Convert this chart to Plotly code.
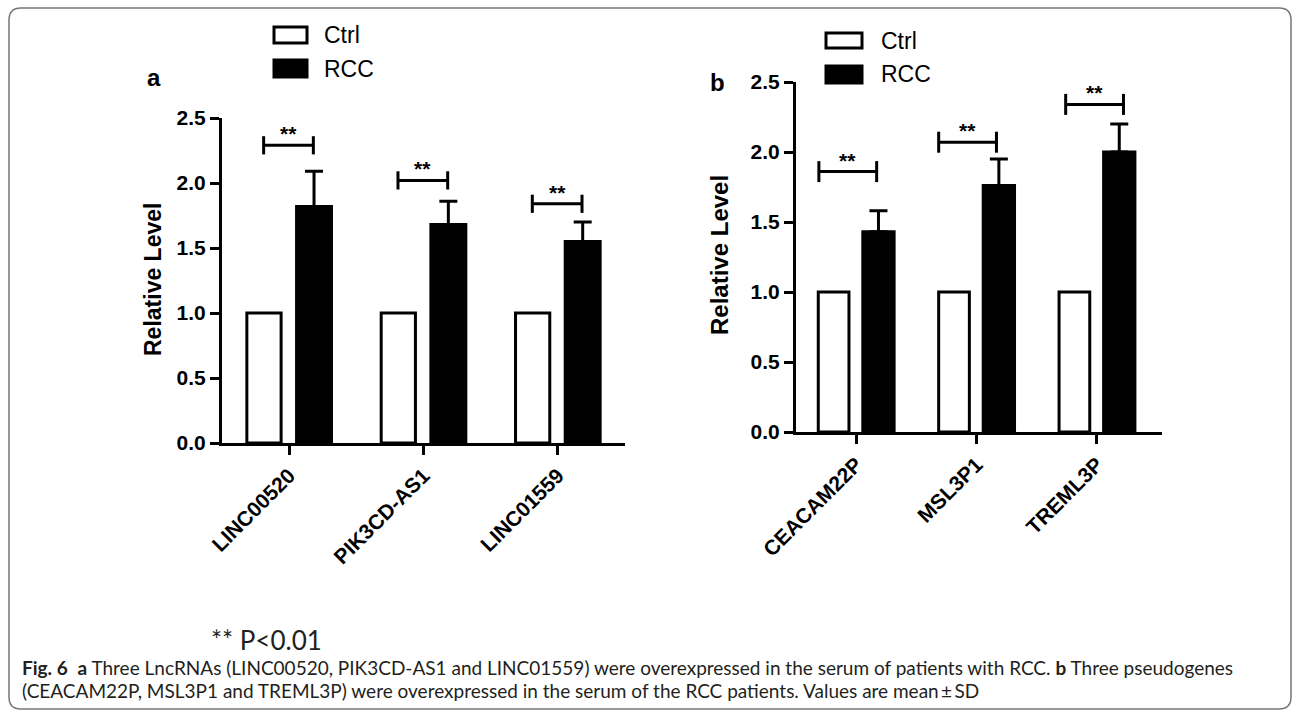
import plotly.graph_objects as go

W, H = 1293, 713

# ---------------- data ----------------
groups = ["Ctrl", "RCC"]
cats_a = ["LINC00520", "PIK3CD-AS1", "LINC01559"]
ctrl_a = [1.0, 1.0, 1.0]
rcc_a = [1.82, 1.68, 1.55]
rcc_sd_a = [0.27, 0.18, 0.15]
sig_a = [2.29, 2.02, 1.84]

cats_b = ["CEACAM22P", "MSL3P1", "TREML3P"]
ctrl_b = [1.0, 1.0, 1.0]
rcc_b = [1.43, 1.76, 2.00]
rcc_sd_b = [0.15, 0.19, 0.20]
sig_b = [1.86, 2.07, 2.34]

y_ticks = [0.0, 0.5, 1.0, 1.5, 2.0, 2.5]
y_title = "Relative Level"
sig_label = "**"
p_note = "** P<0.01"
caption_1 = ("<b>Fig. 6</b>  <b>a</b> Three LncRNAs (LINC00520, PIK3CD-AS1 and LINC01559) "
             "were overexpressed in the serum of patients with RCC. <b>b</b> Three pseudogenes")
caption_2 = ("(CEACAM22P, MSL3P1 and TREML3P) were overexpressed in the serum of the RCC "
             "patients. Values are mean\u2009\u00b1\u2009SD")

# ---------------- helpers ----------------
def px(x):
    return x / W

def py(y):
    return 1 - y / H

ARIAL = "Arial, Liberation Sans, sans-serif"
CAP = "Lato, Open Sans, sans-serif"

fig = go.Figure()

panels = [
    dict(cats=cats_a, ctrl=ctrl_a, rcc=rcc_a, sd=rcc_sd_a, sig=sig_a, xa="x", ya="y",
         br=[(-0.19, 0.18)] * 3, h=0.07),
    dict(cats=cats_b, ctrl=ctrl_b, rcc=rcc_b, sd=rcc_sd_b, sig=sig_b, xa="x2", ya="y2",
         br=[(-0.31, 0.17), (-0.315, 0.165), (-0.26, 0.22)], h=0.075),
]

shapes = []
annotations = []

for p in panels:
    fig.add_trace(go.Bar(
        x=p["cats"], y=p["ctrl"], name=groups[0], offset=-0.315, width=0.255,
        marker=dict(color="white", line=dict(color="black", width=3)),
        xaxis=p["xa"], yaxis=p["ya"], showlegend=False))
    fig.add_trace(go.Bar(
        x=p["cats"], y=p["rcc"], name=groups[1], offset=0.055, width=0.26,
        marker=dict(color="black", line=dict(color="black", width=3)),
        error_y=dict(type="data", array=p["sd"], arrayminus=[0] * len(p["sd"]),
                     symmetric=False, color="black", thickness=3, width=9),
        xaxis=p["xa"], yaxis=p["ya"], showlegend=False))
    for i, yv in enumerate(p["sig"]):
        x0 = i + p["br"][i][0]
        x1 = i + p["br"][i][1]
        ln = dict(color="black", width=3)
        shapes.append(dict(type="line", xref=p["xa"], yref=p["ya"], x0=x0, x1=x1, y0=yv, y1=yv, line=ln))
        shapes.append(dict(type="line", xref=p["xa"], yref=p["ya"], x0=x0, x1=x0,
                           y0=yv - p["h"], y1=yv + p["h"], line=ln))
        shapes.append(dict(type="line", xref=p["xa"], yref=p["ya"], x0=x1, x1=x1,
                           y0=yv - p["h"], y1=yv + p["h"], line=ln))
        annotations.append(dict(xref=p["xa"], yref=p["ya"], x=(x0 + x1) / 2, y=yv,
                                text="<b>" + sig_label + "</b>", showarrow=False,
                                xanchor="center", yanchor="bottom", yshift=-2,
                                font=dict(family=ARIAL, size=21, color="black")))

axis_common = dict(showline=True, linewidth=3, linecolor="black", ticks="outside",
                   ticklen=9, tickwidth=3, tickcolor="black", showgrid=False,
                   zeroline=False, fixedrange=True, automargin=False,
                   tickfont=dict(family=ARIAL, size=21, color="black", weight="bold"))

fig.update_layout(
    width=W, height=H, margin=dict(l=0, r=0, t=0, b=0, pad=0, autoexpand=False),
    paper_bgcolor="white", plot_bgcolor="white", barmode="overlay",
    xaxis=dict(domain=[px(222), px(625)], range=[-0.5, 2.5], type="category",
               anchor="y", tickangle=-45, **axis_common),
    yaxis=dict(domain=[py(443), py(118)], range=[0, 2.5], tickvals=y_ticks,
               tickformat=".1f", anchor="x", **axis_common),
    xaxis2=dict(domain=[px(796), px(1162)], range=[-0.5, 2.54], type="category",
                anchor="y2", tickangle=-45, **axis_common),
    yaxis2=dict(domain=[py(432), py(82)], range=[0, 2.5], tickvals=y_ticks,
                tickformat=".1f", anchor="x2", **axis_common),
)

# y-axis titles
annotations.append(dict(xref="paper", yref="paper", x=px(153), y=py(280), text="<b>" + y_title + "</b>",
                        textangle=-90, showarrow=False, xanchor="center", yanchor="middle",
                        font=dict(family=ARIAL, size=23, color="black")))
annotations.append(dict(xref="paper", yref="paper", x=px(720), y=py(255), text="<b>" + y_title + "</b>",
                        textangle=-90, showarrow=False, xanchor="center", yanchor="middle",
                        font=dict(family=ARIAL, size=24, color="black")))

# panel letters
annotations.append(dict(xref="paper", yref="paper", x=px(154), y=py(77), text="<b>a</b>",
                        showarrow=False, xanchor="center", yanchor="middle",
                        font=dict(family=ARIAL, size=24, color="black")))
annotations.append(dict(xref="paper", yref="paper", x=px(717), y=py(83), text="<b>b</b>",
                        showarrow=False, xanchor="center", yanchor="middle",
                        font=dict(family=ARIAL, size=24, color="black")))

# legends (boxes + labels)
legend_pos = [
    dict(bx0=274, bx1=307, rows=[(27, 43), (60, 77)], tx=322),
    dict(bx0=826, bx1=862, rows=[(33, 48), (66, 83)], tx=879),
]
fills = ["white", "black"]
for lg in legend_pos:
    for k, (y0, y1) in enumerate(lg["rows"]):
        shapes.append(dict(type="rect", xref="paper", yref="paper",
                           x0=px(lg["bx0"]), x1=px(lg["bx1"]), y0=py(y1), y1=py(y0),
                           fillcolor=fills[k], line=dict(color="black", width=3)))
        annotations.append(dict(xref="paper", yref="paper", x=px(lg["tx"]), y=py((y0 + y1) / 2),
                                text=groups[k], showarrow=False, xanchor="left", yanchor="middle",
                                font=dict(family=ARIAL, size=23, color="black")))

# P value note and caption
annotations.append(dict(xref="paper", yref="paper", x=px(209), y=py(640), text=p_note,
                        showarrow=False, xanchor="left", yanchor="middle",
                        font=dict(family=CAP, size=26, color="#231f20")))
annotations.append(dict(xref="paper", yref="paper", x=px(20), y=py(667), text=caption_1,
                        showarrow=False, xanchor="left", yanchor="middle",
                        font=dict(family=CAP, size=19, color="#231f20")))
annotations.append(dict(xref="paper", yref="paper", x=px(20), y=py(690), text=caption_2,
                        showarrow=False, xanchor="left", yanchor="middle",
                        font=dict(family=CAP, size=19, color="#231f20")))

# rounded frame
L, T, R, B, r = 9, 8, 1291, 709, 12
path = (f"M {px(L + r)},{py(T)} L {px(R - r)},{py(T)} Q {px(R)},{py(T)} {px(R)},{py(T + r)} "
        f"L {px(R)},{py(B - r)} Q {px(R)},{py(B)} {px(R - r)},{py(B)} "
        f"L {px(L + r)},{py(B)} Q {px(L)},{py(B)} {px(L)},{py(B - r)} "
        f"L {px(L)},{py(T + r)} Q {px(L)},{py(T)} {px(L + r)},{py(T)} Z")
shapes.append(dict(type="path", xref="paper", yref="paper", path=path,
                   line=dict(color="#777777", width=1.5)))

fig.update_layout(shapes=shapes, annotations=annotations)

fig.write_html("out.html", config={"displayModeBar": False},
               post_script="document.body.style.margin='0';document.body.style.overflow='hidden';")
